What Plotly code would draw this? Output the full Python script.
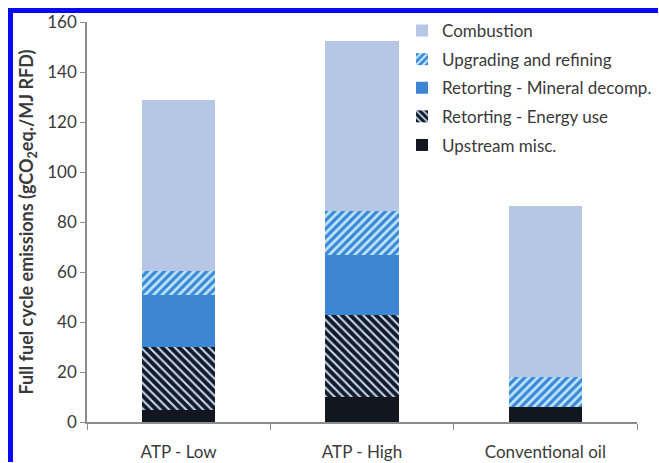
import plotly.graph_objects as go

categories = ["ATP - Low", "ATP - High", "Conventional oil"]
upstream = [5, 10, 6]
energy_use = [25, 33, 0]
mineral_decomp = [21, 24, 0]
upgrading = [9.5, 17.5, 12]
combustion = [68.5, 68, 68.5]

series_names = ["Upstream misc.", "Retorting - Energy use", "Retorting - Mineral decomp.",
                "Upgrading and refining", "Combustion"]
y_ticks = [0, 20, 40, 60, 80, 100, 120, 140, 160]

FONT = "Lato"
TXT = "#3a3a3a"

fig = go.Figure()
fig.add_trace(go.Bar(x=categories, y=upstream, name=series_names[0], legendgroup="a", legendrank=5,
                     marker=dict(color="#12171f", line=dict(width=0))))
fig.add_trace(go.Bar(x=categories, y=energy_use, name=series_names[1], legendgroup="b", legendrank=4,
                     marker=dict(color="#12192a", line=dict(width=0),
                                 pattern=dict(shape="\\", bgcolor="#12192a", fgcolor="#c6dbec",
                                              size=6, solidity=0.35, fillmode="replace"))))
fig.add_trace(go.Bar(x=categories, y=mineral_decomp, name=series_names[2], legendgroup="c", legendrank=3,
                     marker=dict(color="#3d86d3", line=dict(width=0))))
fig.add_trace(go.Bar(x=categories, y=upgrading, name=series_names[3], legendgroup="d", legendrank=2,
                     marker=dict(color="#3a89d8", line=dict(width=0),
                                 pattern=dict(shape="/", bgcolor="#3a89d8", fgcolor="#c4e6fa",
                                              size=6, solidity=0.45, fillmode="replace"))))
fig.add_trace(go.Bar(x=categories, y=combustion, name=series_names[4], legendgroup="e", legendrank=1,
                     marker=dict(color="#b5c7e5", line=dict(width=0))))

W, H = 659, 463
L, R, T, B = 87, 22, 22, 41
pw, ph = W - L - R, H - T - B

def px_x(p):
    return (p - L) / pw

def px_y(p):
    return (H - B - p) / ph

fig.update_layout(
    width=W, height=H,
    margin=dict(l=L, r=R, t=T, b=B, pad=0, autoexpand=False),
    barmode="stack",
    bargap=0.6,
    plot_bgcolor="white",
    paper_bgcolor="white",
    font=dict(family=FONT, color=TXT, size=17),
    legend=dict(
        xref="container", yref="container",
        x=402 / W, y=1 - 13 / H, xanchor="left", yanchor="top",
        traceorder="grouped", tracegroupgap=3.5,
        font=dict(family=FONT, size=17, color=TXT),
        bgcolor="rgba(0,0,0,0)",
    ),
    xaxis=dict(
        automargin=False,
        showline=True, linecolor="#8c8c8c", linewidth=1.5,
        ticks="outside", tickson="boundaries", ticklen=6, tickcolor="#8c8c8c",
        tickfont=dict(family=FONT, size=17, color=TXT),
        ticklabelstandoff=14,
        range=[-0.5, 2.5], showgrid=False,
    ),
    yaxis=dict(
        automargin=False,
        range=[0, 160], tickvals=y_ticks,
        showline=True, linecolor="#8c8c8c", linewidth=1.5,
        ticks="outside", ticklen=5, tickcolor="#8c8c8c",
        tickfont=dict(family=FONT, size=17, color=TXT),
        showgrid=False, zeroline=False,
        title=dict(text="<b>Full fuel cycle emissions (gCO<sub>2</sub>eq./MJ RFD)</b>",
                   font=dict(family=FONT, size=18, color=TXT), standoff=9),
    ),
)

# blue frame (top and left edge of the figure only)
frame = dict(color="#0a0af2", width=5)
fig.add_shape(type="line", xref="paper", yref="paper",
              x0=px_x(8), x1=px_x(W - 1), y0=px_y(10.5), y1=px_y(10.5), line=frame, layer="above")
fig.add_shape(type="line", xref="paper", yref="paper",
              x0=px_x(10.5), x1=px_x(10.5), y0=px_y(8), y1=px_y(H - 1), line=frame, layer="above")

fig.write_html("out.html")
